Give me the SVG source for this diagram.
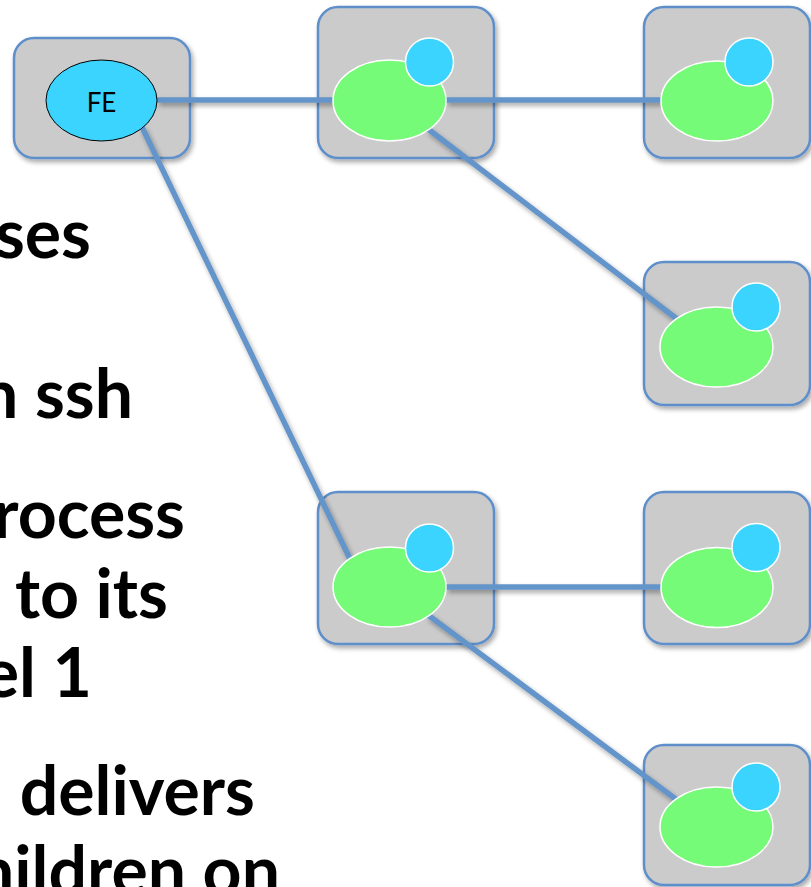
<svg xmlns="http://www.w3.org/2000/svg" width="811" height="887" viewBox="0 0 811 887">
  <defs>
    <filter id="shadow" x="-10%" y="-10%" width="130%" height="130%">
      <feGaussianBlur in="SourceAlpha" stdDeviation="2.5"/>
      <feOffset dx="2" dy="3" result="off"/>
      <feComponentTransfer><feFuncA type="linear" slope="0.35"/></feComponentTransfer>
      <feMerge><feMergeNode/><feMergeNode in="SourceGraphic"/></feMerge>
    </filter>
  </defs>
  <style>
    .box { fill: #cbcbcb; stroke: #5e8fcb; stroke-width: 2.5; }
    .proc { fill: #76fb78; stroke: #ffffff; stroke-width: 1.5; }
    .port { fill: #3ad4fe; stroke: #ffffff; stroke-width: 1.5; }
    .edge { stroke: #6494ca; stroke-width: 5.5; fill: none; }
    .txt { font-family: Lato, "Liberation Sans", sans-serif; font-weight: bold; font-size: 68px; fill: #000000; text-anchor: end; }
  </style>

  <rect width="811" height="887" fill="#ffffff"/>

  <!-- bullet text, left column (continues past the left edge) -->
  <g id="bullets">
    <text class="txt" x="91" y="258">ses</text>
    <text class="txt" x="133" y="418">n ssh</text>
    <text class="txt" x="185" y="538">rocess</text>
    <text class="txt" x="168" y="618">to its</text>
    <text class="txt" x="92" y="697">el 1</text>
    <text class="txt" x="255" y="815">delivers</text>
    <text class="txt" x="280" y="895">hildren on</text>
  </g>

  <!-- host boxes -->
  <g id="boxes" filter="url(#shadow)">
    <rect id="box-fe" class="box" x="14" y="38" width="176" height="120" rx="20"/>
    <rect id="box-n1" class="box" x="318" y="7" width="176" height="151" rx="20"/>
    <rect id="box-n2" class="box" x="644" y="7" width="166" height="151" rx="20"/>
    <rect id="box-n3" class="box" x="644" y="262" width="166" height="143" rx="20"/>
    <rect id="box-n4" class="box" x="318" y="492" width="176" height="152" rx="20"/>
    <rect id="box-n5" class="box" x="644" y="492" width="166" height="152" rx="20"/>
    <rect id="box-n6" class="box" x="644" y="745" width="166" height="140" rx="20"/>
  </g>

  <!-- tree connections -->
  <g id="connectors" filter="url(#shadow)">
    <line class="edge" x1="157" y1="100" x2="334" y2="100"/>
    <line class="edge" x1="446" y1="100" x2="661" y2="100"/>
    <line class="edge" x1="428" y1="129" x2="677" y2="319"/>
    <line class="edge" x1="142" y1="127" x2="351" y2="561"/>
    <line class="edge" x1="446" y1="587" x2="661" y2="587"/>
    <line class="edge" x1="428" y1="615" x2="677" y2="800"/>
  </g>

  <!-- front end -->
  <g id="fe">
    <ellipse cx="101.5" cy="100.5" rx="55.5" ry="40.5" fill="#3ad4fe" stroke="#000000" stroke-width="1"/>
    <text x="101.5" y="112" font-family="Lato, 'Liberation Sans', sans-serif" font-size="26" text-anchor="middle" fill="#000000">FE</text>
  </g>

  <!-- communication processes -->
  <g id="n1">
    <ellipse class="proc" cx="389.5" cy="100.5" rx="56.5" ry="40.5"/>
    <circle class="port" cx="429.5" cy="62" r="24"/>
  </g>
  <g id="n2">
    <ellipse class="proc" cx="717" cy="101" rx="56" ry="40"/>
    <circle class="port" cx="749" cy="62" r="24"/>
  </g>
  <g id="n3">
    <ellipse class="proc" cx="716.5" cy="347" rx="56.5" ry="40"/>
    <circle class="port" cx="756" cy="307" r="24"/>
  </g>
  <g id="n4">
    <ellipse class="proc" cx="389.5" cy="587" rx="56.5" ry="40"/>
    <circle class="port" cx="429.5" cy="548" r="24"/>
  </g>
  <g id="n5">
    <ellipse class="proc" cx="717" cy="587.5" rx="56" ry="40"/>
    <circle class="port" cx="756" cy="547.5" r="24"/>
  </g>
  <g id="n6">
    <ellipse class="proc" cx="716.5" cy="827" rx="56.5" ry="40"/>
    <circle class="port" cx="756" cy="787" r="24"/>
  </g>
</svg>
